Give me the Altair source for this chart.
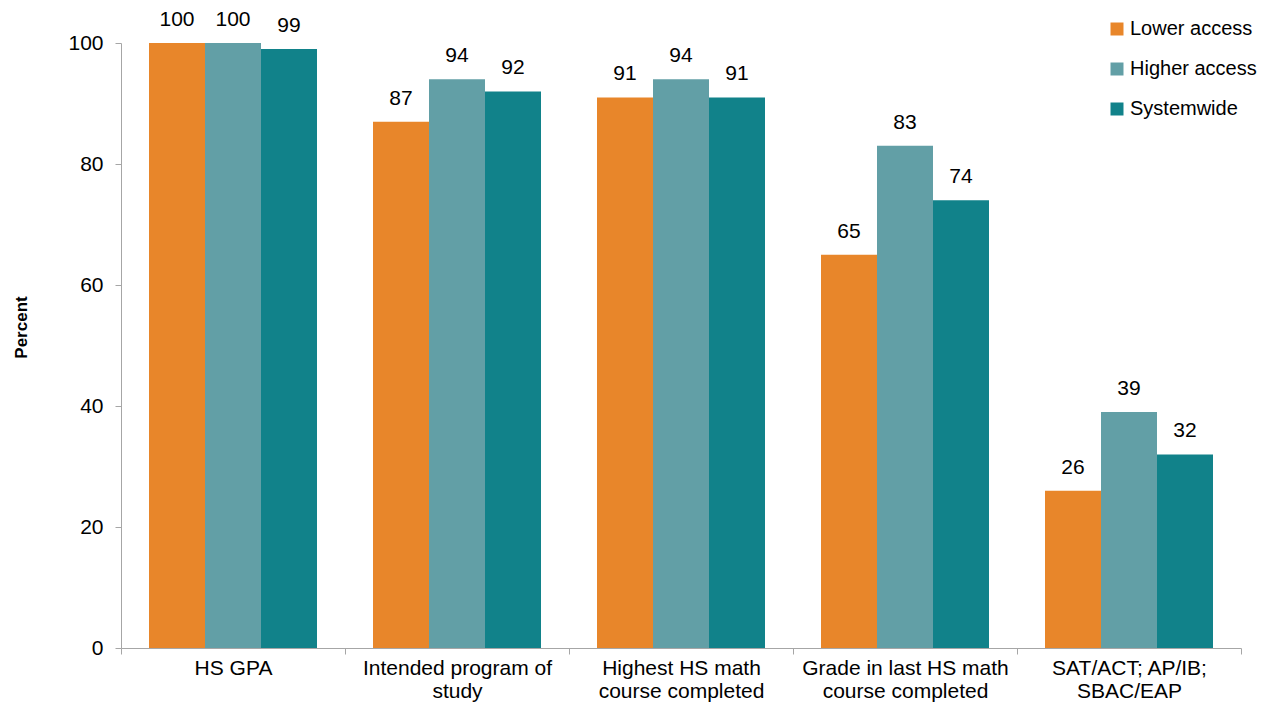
import altair as alt
import pandas as pd

categories = ["HS GPA", "Intended program of\nstudy", "Highest HS math\ncourse completed",
              "Grade in last HS math\ncourse completed", "SAT/ACT; AP/IB;\nSBAC/EAP"]
series = ["Lower access", "Higher access", "Systemwide"]
lower = [100, 87, 91, 65, 26]
higher = [100, 94, 94, 83, 39]
system = [99, 92, 91, 74, 32]
colors = ["#E8862A", "#629FA6", "#11828A"]

rows = []
for i, c in enumerate(categories):
    for s, vals in zip(series, [lower, higher, system]):
        rows.append({"category": c, "series": s, "value": vals[i]})
df = pd.DataFrame(rows)

FONT = "Liberation Sans"

x = alt.X("category:N", sort=categories, title=None,
          scale=alt.Scale(paddingInner=0, paddingOuter=0),
          axis=alt.Axis(labelExpr="split(datum.label, '\\n')", labelAngle=0,
                        tickBand="extent", tickSize=6, tickColor="#A6A6A6",
                        domainColor="#A6A6A6", labelFontSize=21, labelFont=FONT,
                        labelColor="#000000", labelPadding=3, labelLineHeight=23,
                        labelLimit=300))
xoff = alt.XOffset("series:N", sort=series,
                   scale=alt.Scale(paddingOuter=0.5, paddingInner=0))
y = alt.Y("value:Q", scale=alt.Scale(domain=[0, 100]), title="Percent",
          axis=alt.Axis(values=[0, 20, 40, 60, 80, 100], grid=False, tickSize=6,
                        tickColor="#A6A6A6", domainColor="#A6A6A6", labelFontSize=21,
                        labelFont=FONT, labelColor="#000000", labelPadding=12,
                        titleFont=FONT, titleFontSize=17, titleFontWeight="bold",
                        titleColor="#000000", titleX=-99.5, titleY=284,
                        titleAngle=270, titleAlign="center", titleBaseline="middle"))

bars = alt.Chart(df).mark_bar().encode(
    x=x, xOffset=xoff, y=y,
    color=alt.Color("series:N", sort=series,
                    scale=alt.Scale(domain=series, range=colors),
                    legend=alt.Legend(title=None, orient="none", legendX=986, legendY=-24,
                                      symbolType="square", symbolSize=169,
                                      labelFont=FONT, labelFontSize=20, labelColor="#000000",
                                      rowPadding=20, symbolOpacity=1, labelOffset=3))
)

labels = alt.Chart(df).mark_text(baseline="alphabetic", dy=-17, fontSize=21,
                                 font=FONT, color="#000000").encode(
    x=alt.X("category:N", sort=categories), xOffset=xoff, y="value:Q",
    text="value:Q"
)

chart = alt.layer(bars, labels).properties(
    width=1120, height=605,
    autosize=alt.AutoSizeParams(type="none"),
    padding={"left": 113, "top": 35, "right": 17, "bottom": 58}
).configure_view(stroke=None)

chart.save("out.html", embed_options={"renderer": "svg", "actions": False})
